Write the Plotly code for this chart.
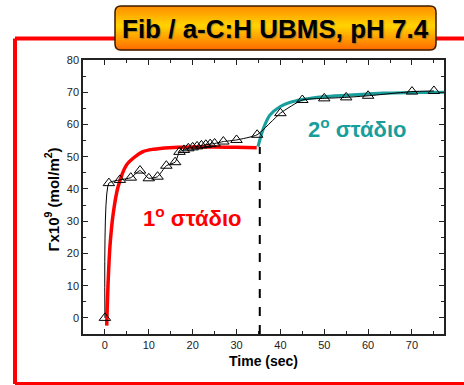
import plotly.graph_objects as go

# ---------------- data ----------------
time_pts = [0, 0.9, 3.4, 5.9, 8, 10, 12, 14, 16, 17, 18, 19, 20, 21, 22, 23, 24, 25,
            27, 30, 34.7, 40, 45, 50, 55, 60, 70, 75]
gamma_pts = [0, 41.8, 42.8, 43.5, 45.7, 43.3, 43.8, 47.2, 48.3, 51.5, 52.1, 52.6, 52.9,
             53.2, 53.5, 53.7, 53.9, 54.1, 54.7, 55.2, 56.8, 63.5, 67.6, 68.1, 68.4,
             68.9, 70.2, 70.4]

stage1_t = [0.4, 0.75, 1.14, 1.9, 3.0, 4.9, 6.5, 8.7, 11, 14.7, 20, 25, 30, 34.6]
stage1_g = [-2.4, 11.8, 22.1, 32.5, 40.7, 47.4, 49.6, 51.6, 52.3, 52.8, 53, 53, 52.9, 52.8]

stage2_t = [34.9, 36, 37.6, 39.9, 42.1, 45.2, 49.7, 55.8, 63.4, 77.3]
stage2_g = [53.1, 58.3, 62.9, 65.5, 66.8, 67.8, 68.6, 69.1, 69.7, 70.0]

stage_boundary = 35.3
boundary_top = 53

title_text = "Fib / a-C:H UBMS, pH 7.4"
stage1_label = "1<sup>o</sup> στάδιο"
stage2_label = "2<sup>o</sup> στάδιο"
x_title = "Time (sec)"
y_title = "Γx10<sup>9</sup> (mol/m<sup>2</sup>)"

# ---------------- layout geometry (pixels) ----------------
W, H = 464, 385
ML, MR, MT, MB = 83, 20, 60, 51
PW, PH = W - ML - MR, H - MT - MB


def px(x, y):
    return (x - ML) / PW, (H - MB - y) / PH


RED = "#FF0000"
TEAL = "#1A9E9C"
FONT = "Liberation Sans, Arial"

fig = go.Figure()

fig.add_trace(go.Scatter(
    x=stage1_t, y=stage1_g, mode="lines",
    line=dict(color=RED, width=3.5, shape="spline", smoothing=0.8),
    showlegend=False, hoverinfo="skip"))

fig.add_trace(go.Scatter(
    x=stage2_t, y=stage2_g, mode="lines",
    line=dict(color=TEAL, width=3.2, shape="spline", smoothing=0.8),
    showlegend=False, hoverinfo="skip"))

fig.add_trace(go.Scatter(
    x=time_pts, y=gamma_pts, mode="lines+markers",
    line=dict(color="black", width=1, shape="spline", smoothing=0.5),
    marker=dict(symbol="triangle-up-open", size=10, color="black",
                line=dict(width=1, color="black")),
    showlegend=False))

shapes = []
# dashed stage boundary
shapes.append(dict(type="line", xref="x", yref="y", x0=stage_boundary, x1=stage_boundary,
                   y0=-5, y1=boundary_top, line=dict(color="black", width=2, dash="dash")))

# red frame
for (x0, y0, x1, y1) in [(15, 38.5, 15, 384), (15, 38.5, 470, 38.5), (15, 384, 470, 384)]:
    a = px(x0, y0)
    b = px(x1, y1)
    shapes.append(dict(type="line", xref="paper", yref="paper", x0=a[0], y0=a[1],
                       x1=b[0], y1=b[1], line=dict(color=RED, width=4)))

# title box with gradient
bx0, bx1, by0, by1, r = 115, 436, 6, 50, 6
stops = [(0.0, (255, 140, 0)), (0.45, (255, 212, 0)), (1.0, (255, 105, 0))]


def grad(f):
    for (f0, c0), (f1, c1) in zip(stops[:-1], stops[1:]):
        if f0 <= f <= f1:
            t = (f - f0) / (f1 - f0)
            return "rgb(%d,%d,%d)" % tuple(round(c0[i] + (c1[i] - c0[i]) * t) for i in range(3))
    return "rgb(%d,%d,%d)" % stops[-1][1]


n = 22
step = (by1 - by0) / n
for i in range(n):
    ya, yb = by0 + i * step, by0 + (i + 1) * step
    ym = (ya + yb) / 2
    inset = 0
    if ym < by0 + r:
        d = by0 + r - ym
        inset = r - (r * r - d * d) ** 0.5
    elif ym > by1 - r:
        d = ym - (by1 - r)
        inset = r - (r * r - d * d) ** 0.5
    a = px(bx0 + inset, ya)
    b = px(bx1 - inset, yb + 0.3)
    shapes.append(dict(type="rect", xref="paper", yref="paper", x0=a[0], y0=b[1],
                       x1=b[0], y1=a[1], fillcolor=grad((ym - by0) / (by1 - by0)),
                       line=dict(width=0)))


def P(x, y):
    p = px(x, y)
    return "%.5f,%.5f" % p


path = ("M " + P(bx0 + r, by0) + " L " + P(bx1 - r, by0) + " Q " + P(bx1, by0) + " " + P(bx1, by0 + r) +
        " L " + P(bx1, by1 - r) + " Q " + P(bx1, by1) + " " + P(bx1 - r, by1) +
        " L " + P(bx0 + r, by1) + " Q " + P(bx0, by1) + " " + P(bx0, by1 - r) +
        " L " + P(bx0, by0 + r) + " Q " + P(bx0, by0) + " " + P(bx0 + r, by0) + " Z")
shapes.append(dict(type="path", xref="paper", yref="paper", path=path,
                   line=dict(color="#3a1a00", width=1.5)))

annotations = []
tx, ty = px((bx0 + bx1) / 2, (by0 + by1) / 2 + 1)
annotations.append(dict(xref="paper", yref="paper", x=tx, y=ty, text="<b>%s</b>" % title_text,
                        showarrow=False, xanchor="center", yanchor="middle",
                        font=dict(family=FONT, size=26, color="black",
                                  shadow="1px 1px 1px rgba(80,80,80,0.5)")))
annotations.append(dict(xref="x", yref="y", x=19.8, y=31.4, text="<b>%s</b>" % stage1_label,
                        showarrow=False, font=dict(family=FONT, size=22, color=RED)))
annotations.append(dict(xref="x", yref="y", x=57.5, y=59, text="<b>%s</b>" % stage2_label,
                        showarrow=False, font=dict(family=FONT, size=22, color=TEAL)))
xt = px(263.5, 371)
annotations.append(dict(xref="paper", yref="paper", x=xt[0], y=xt[1], text="<b>%s</b>" % x_title,
                        showarrow=False, font=dict(family=FONT, size=14, color="black")))
yt = px(40, 200)
annotations.append(dict(xref="paper", yref="paper", x=yt[0], y=yt[1], text="<b>%s</b>" % y_title,
                        showarrow=False, textangle=-90,
                        font=dict(family=FONT, size=15, color="black")))

axis_common = dict(showline=True, linecolor="#222", linewidth=1.5, mirror="ticks",
                   ticks="inside", ticklen=5, tickwidth=1, tickcolor="#222",
                   showgrid=False, zeroline=False,
                   tickfont=dict(family=FONT, size=11, color="#222"),
                   minor=dict(ticks="inside", ticklen=3, tickcolor="#222", dtick=5, showgrid=False))

fig.update_layout(
    width=W, height=H,
    margin=dict(l=ML, r=MR, t=MT, b=MB),
    paper_bgcolor="white", plot_bgcolor="white",
    xaxis=dict(range=[-5, 77.3], dtick=10, tick0=0, **axis_common),
    yaxis=dict(range=[-5, 80], dtick=10, tick0=0, **axis_common),
    shapes=shapes, annotations=annotations, showlegend=False,
)

fig.write_html("out.html")
